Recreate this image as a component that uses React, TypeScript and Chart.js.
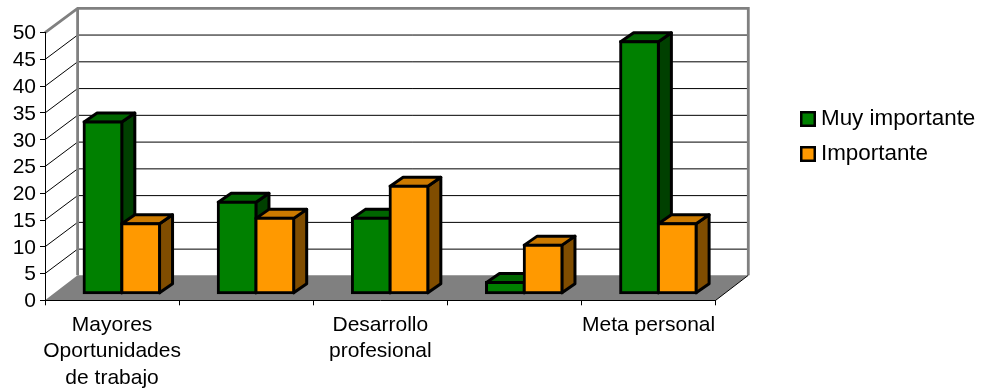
import React, { useEffect, useRef } from "react";
import { Chart, registerables } from "chart.js";

Chart.register(...registerables);

const categories: (string | string[])[] = [
  ["Mayores", "Oportunidades", "de trabajo"],
  "",
  ["Desarrollo", "profesional"],
  "",
  "Meta personal",
];
const muyImportante = [32, 17, 14, 2, 47];
const importante = [13, 14, 20, 9, 13];
const seriesNames = ["Muy importante", "Importante"];
const yMax = 50;
const yStep = 5;

const FONT = "'Liberation Sans', Arial, sans-serif";
const FONT_SIZE = 21;
const LEGEND_FONT_SIZE = 22.4;
const PLOT = { left: 45, right: 715.7, top: 32.7, bottom: 300.3 };
const WALL = { dx: 32.6, dy: 25, gridDy: 24.4 };
const BAR_INSET = { dx: 9.75, dy: 7 };
const BAR_DEPTH = { dx: 13, dy: 9 };
const BORDER = 3;
const SHADES = [
  { front: "#008000", top: "#006600", side: "#004000" },
  { front: "#FF9900", top: "#CC7A00", side: "#804D00" },
];

function swatch(color: string) {
  const c = document.createElement("canvas");
  c.width = 16;
  c.height = 16;
  const g = c.getContext("2d")!;
  g.fillStyle = "#000";
  g.fillRect(0, 0, 16, 16);
  g.fillStyle = color;
  g.fillRect(2.5, 2.5, 11, 11);
  return c;
}

function poly(ctx: CanvasRenderingContext2D, pts: number[][], fill: string | null, stroke: string | null, lw = 1) {
  ctx.beginPath();
  pts.forEach(([x, y], i) => (i ? ctx.lineTo(x, y) : ctx.moveTo(x, y)));
  ctx.closePath();
  if (fill) {
    ctx.fillStyle = fill;
    ctx.fill();
  }
  if (stroke) {
    ctx.strokeStyle = stroke;
    ctx.lineWidth = lw;
    ctx.lineJoin = "round";
    ctx.stroke();
  }
}

const threeD = {
  id: "threeD",
  afterLayout(chart: any) {
    if (chart.legend) {
      chart.legend.left = 793.6;
      chart.legend.top = 95.2;
      chart.legend.right = 982;
      chart.legend.bottom = 200;
    }
  },
  beforeDraw(chart: any) {
    const { ctx, chartArea: a, scales } = chart;
    const y = scales.y;
    const { dx, dy, gridDy } = WALL;
    ctx.save();
    // floor
    poly(ctx, [[a.left, a.bottom], [a.right, a.bottom], [a.right + dx, a.bottom - dy], [a.left + dx, a.bottom - dy]], "#808080", null);
    // grid lines on side and back walls
    ctx.lineWidth = 1;
    ctx.strokeStyle = "#000";
    y.ticks.forEach((t: any) => {
      if (t.value === 0 || t.value === yMax) return;
      const py = y.getPixelForValue(t.value);
      ctx.beginPath();
      ctx.moveTo(a.left, py);
      ctx.lineTo(a.left + dx, py - gridDy);
      ctx.lineTo(a.right + dx, py - gridDy);
      ctx.stroke();
    });
    // wall outline
    ctx.strokeStyle = "#808080";
    ctx.lineWidth = 2.8;
    ctx.lineJoin = "miter";
    ctx.beginPath();
    ctx.moveTo(a.left, a.top);
    ctx.lineTo(a.left + dx, a.top - gridDy);
    ctx.lineTo(a.right + dx, a.top - gridDy);
    ctx.lineTo(a.right + dx, a.bottom - dy);
    ctx.stroke();
    ctx.beginPath();
    ctx.moveTo(a.left + dx, a.top - gridDy);
    ctx.lineTo(a.left + dx, a.bottom - dy);
    ctx.stroke();
    // floor front-right edge
    ctx.strokeStyle = "#000";
    ctx.lineWidth = 1;
    ctx.beginPath();
    ctx.moveTo(a.right, a.bottom);
    ctx.lineTo(a.right + dx, a.bottom - dy);
    ctx.stroke();
    ctx.restore();
  },
  beforeDatasetsDraw(chart: any) {
    const { ctx } = chart;
    // Paint left series first so the right series' top overlaps its side face.
    [0, 1].forEach((index) => {
      const meta = chart.getDatasetMeta(index);
      const shade = SHADES[index];
      ctx.save();
      ctx.translate(BAR_INSET.dx, -BAR_INSET.dy);
      meta.data.forEach((bar: any) => {
        const { x, y, base, width } = bar.getProps(["x", "y", "base", "width"], true);
        const l = x - width / 2;
        const r = x + width / 2;
        const { dx, dy } = BAR_DEPTH;
        poly(ctx, [[r, y], [r + dx, y - dy], [r + dx, base - dy], [r, base]], shade.side, "#000", BORDER);
        poly(ctx, [[l, y], [l + dx, y - dy], [r + dx, y - dy], [r, y]], shade.top, "#000", BORDER);
      });
      meta.controller.draw();
      ctx.restore();
    });
    return false;
  },
};

export default function App() {
  const ref = useRef<HTMLCanvasElement>(null);
  useEffect(() => {
    document.body.style.margin = "0";
    const tickFont = { family: FONT, size: FONT_SIZE, lineHeight: 1.28 };
    const swatches = SHADES.map((s) => swatch(s.front));
    const chart = new Chart(ref.current!, {
      type: "bar",
      data: {
        labels: categories,
        datasets: [muyImportante, importante].map((values, i) => ({
          label: seriesNames[i],
          data: values,
          backgroundColor: SHADES[i].front,
          borderColor: "#000",
          borderWidth: BORDER,
          borderSkipped: false,
          inflateAmount: BORDER / 2,
          categoryPercentage: 0.5625,
          barPercentage: 1,
          clip: false,
        })),
      } as any,
      options: {
        responsive: false,
        animation: false,
        layout: { padding: { top: PLOT.top, left: 0, right: 0, bottom: 0 } },
        plugins: {
          tooltip: { enabled: false },
          legend: {
            position: "right",
            align: "start",
            labels: {
              color: "#000",
              font: { family: FONT, size: LEGEND_FONT_SIZE },
              padding: 12.6,
              usePointStyle: true,
              pointStyleWidth: 3.6,
              generateLabels: () =>
                seriesNames.map((name, i) => ({
                  text: name,
                  fillStyle: SHADES[i].front,
                  strokeStyle: "#000",
                  lineWidth: 2,
                  pointStyle: swatches[i],
                  datasetIndex: i,
                  fontColor: "#000",
                })),
            },
          },
        },
        scales: {
          x: {
            grid: { offset: true, drawOnChartArea: false, drawTicks: true, tickLength: 5, tickColor: "#000" },
            border: { display: true, color: "#000", width: 1 },
            ticks: { color: "#000", font: tickFont, maxRotation: 0, minRotation: 0, autoSkip: false, padding: 6 },
            afterFit(scale: any) {
              scale.height = 389 - PLOT.bottom;
            },
          },
          y: {
            min: 0,
            max: yMax,
            grid: { drawOnChartArea: false, drawTicks: true, tickLength: 5, tickColor: "#000" },
            border: { display: true, color: "#000", width: 1 },
            ticks: { stepSize: yStep, color: "#000", font: tickFont, padding: 4, autoSkip: false, labelOffset: 1 },
            afterFit(scale: any) {
              scale.width = PLOT.left;
            },
          },
        },
      } as any,
      plugins: [threeD as any],
    });
    const extra = chart.chartArea.right - PLOT.right;
    (chart.options.layout as any).padding.right = extra;
    chart.update();
    return () => chart.destroy();
  }, []);
  return <canvas ref={ref} width={982} height={389} style={{ display: "block" }} />;
}
